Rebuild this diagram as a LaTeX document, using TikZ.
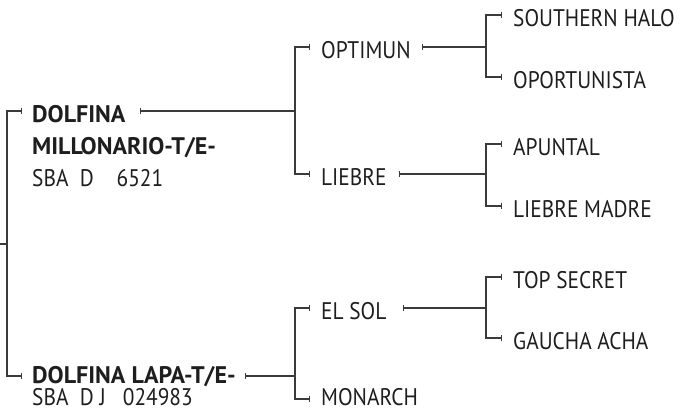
\documentclass[tikz,border=0pt]{standalone}
\usepackage{fontspec}
\setmainfont[FakeStretch=0.89,BoldFeatures={FakeStretch=1.0}]{PT Sans}
\usetikzlibrary{arrows.meta}
\definecolor{ln}{HTML}{3A3A3A}
\definecolor{tx}{HTML}{1E1E1E}
\begin{document}
\begin{tikzpicture}[x=1pt,y=-1pt,
  lbl/.style={anchor=base west,inner sep=0pt,text=tx,font=\fontsize{24}{28}\selectfont},
  blbl/.style={lbl,font=\fontsize{24}{28}\selectfont\bfseries},
  conn/.style={draw=ln,line width=1.4pt},
  brk/.style={conn,{Bar[width=6pt]}-{Bar[width=6pt]}},
  par/.style={conn,{Bar[width=6pt]}-}]
\useasboundingbox (0,0) rectangle (680,411);
% level 1
\node[blbl] (d1a) at (32,123) {DOLFINA};
\node[blbl] (d1b) at (32,155) {MILLONARIO-T/E-};
\node[lbl]  (d1c) at (32,187) {SBA\ \ D\ \ \ \ 6521};
\node[blbl] (d2a) at (32,384) {DOLFINA LAPA-T/E-};
\node[lbl]  (d2b) at (32,406) {SBA\ \ D J\ \ \ 024983};
% level 2
\node[lbl] (optimun) at (321,59) {OPTIMUN};
\node[lbl] (liebre) at (321,186) {LIEBRE};
\node[lbl] (elsol) at (321,320) {EL SOL};
\node[lbl] (monarch) at (321,406) {MONARCH};
% level 3
\node[lbl] (southern) at (513,27) {SOUTHERN HALO};
\node[lbl] (oport) at (513,89) {OPORTUNISTA};
\node[lbl] (apuntal) at (513,156) {APUNTAL};
\node[lbl] (lmadre) at (513,218) {LIEBRE MADRE};
\node[lbl] (topsecret) at (513,289) {TOP SECRET};
\node[lbl] (gaucha) at (513,350) {GAUCHA ACHA};
% tick coordinates
\coordinate (root) at (0,244);
\coordinate (rv) at (7,244);
\coordinate (k-d1) at (22,111);
\coordinate (k-d2) at (22,376);
\coordinate (s-d1) at (140,111);
\coordinate (s-d2) at (245,376);
\coordinate (v1) at (295,111);
\coordinate (v2) at (295,376);
\coordinate (k-opt) at (310,47);
\coordinate (k-lie) at (310,174);
\coordinate (k-sol) at (310,308);
\coordinate (k-mon) at (310,399);
\coordinate (s-opt) at (422,47);
\coordinate (s-lie) at (399,174);
\coordinate (s-sol) at (403,308);
\coordinate (v3) at (486,47);
\coordinate (v4) at (486,174);
\coordinate (v5) at (486,308);
\coordinate (k-sou) at (502,15);
\coordinate (k-opo) at (502,77);
\coordinate (k-apu) at (502,144);
\coordinate (k-lma) at (502,206);
\coordinate (k-top) at (502,277);
\coordinate (k-gau) at (502,338);
% connectors
\draw[conn] (root) -- (rv);
\draw[brk] (k-d1) -| (rv) |- (k-d2);
\draw[par] (s-d1) -- (v1);
\draw[brk] (k-opt) -| (v1) |- (k-lie);
\draw[par] (s-d2) -- (v2);
\draw[brk] (k-sol) -| (v2) |- (k-mon);
\draw[par] (s-opt) -- (v3);
\draw[brk] (k-sou) -| (v3) |- (k-opo);
\draw[par] (s-lie) -- (v4);
\draw[brk] (k-apu) -| (v4) |- (k-lma);
\draw[par] (s-sol) -- (v5);
\draw[brk] (k-top) -| (v5) |- (k-gau);
\end{tikzpicture}
\end{document}
